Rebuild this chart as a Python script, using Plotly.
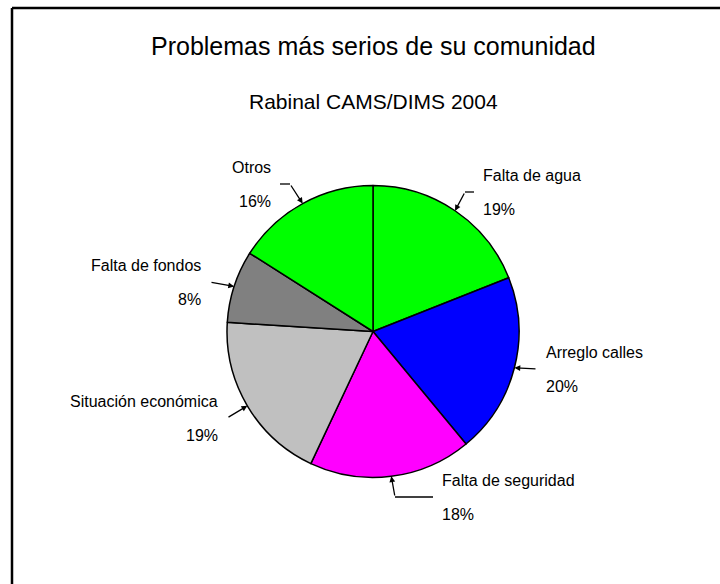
import math
import plotly.graph_objects as go

# Survey results: most serious problems in the community (percent of answers)
categories = ["Falta de agua", "Arreglo calles", "Falta de seguridad",
              "Situación económica", "Falta de fondos", "Otros"]
values = [19, 20, 18, 19, 8, 16]
slice_colors = ["#00ff00", "#0000ff", "#ff00ff", "#c0c0c0", "#808080", "#00ff00"]

title_text = "Problemas más serios de su comunidad"
subtitle_text = "Rabinal CAMS/DIMS 2004"

# Layout (pixel space of the 720x584 page)
W, H = 720, 584
CX, CY, R = 373, 331.5, 146
# label anchor points (where the leader line ends) and the horizontal run of each leader
label_anchor = [(474, 192), (537, 369), (433, 497), (227, 418), (210, 282), (280, 184)]
leader_hrun = [9, 0, 38, 0, 0, 10]
TEXT_GAP = 7
LINE_OFF = 17
FONT = "Liberation Sans, Arial, sans-serif"

fig = go.Figure()

fig.add_trace(go.Pie(
    labels=categories,
    values=values,
    sort=False,
    direction="clockwise",
    rotation=0,
    textinfo="none",
    hoverinfo="label+percent",
    showlegend=False,
    marker=dict(colors=slice_colors, line=dict(color="black", width=1.5)),
    domain=dict(x=[(CX - R) / W, (CX + R) / W],
                y=[1 - (CY + R) / H, 1 - (CY - R) / H]),
))

total = sum(values)
cum = 0
annotations = []
shapes = []
for name, v, (ax_, ay_), hrun in zip(categories, values, label_anchor, leader_hrun):
    mid = (cum + v / 2) / total * 2 * math.pi
    cum += v
    tip_x = CX + R * math.sin(mid)
    tip_y = CY - R * math.cos(mid)
    side = 1 if ax_ > CX else -1
    bend_x = ax_ - side * hrun
    # horizontal part of the leader
    if hrun:
        shapes.append(dict(type="line", xref="x", yref="y",
                           x0=bend_x, y0=ay_, x1=ax_, y1=ay_,
                           line=dict(color="black", width=1.3)))
    # arrow from the bend to the slice edge
    annotations.append(dict(x=tip_x, y=tip_y, xref="x", yref="y",
                            ax=bend_x, ay=ay_, axref="x", ayref="y",
                            text="", showarrow=True, arrowhead=2,
                            arrowsize=0.9, arrowwidth=1.3, arrowcolor="black"))
    tx = ax_ + side * TEXT_GAP
    anchor = "left" if side > 0 else "right"
    annotations.append(dict(x=tx, y=ay_ - LINE_OFF, xref="x", yref="y",
                            text=name, showarrow=False, xanchor=anchor,
                            yanchor="middle", font=dict(size=16, family=FONT, color="black")))
    annotations.append(dict(x=tx, y=ay_ + LINE_OFF, xref="x", yref="y",
                            text=f"{round(v / total * 100)}%", showarrow=False,
                            xanchor=anchor, yanchor="middle",
                            font=dict(size=16, family=FONT, color="black")))

annotations.append(dict(x=CX, y=46, xref="x", yref="y", text=title_text,
                        showarrow=False, xanchor="center", yanchor="middle",
                        font=dict(size=25, family=FONT, color="black")))
annotations.append(dict(x=CX, y=101, xref="x", yref="y", text=subtitle_text,
                        showarrow=False, xanchor="center", yanchor="middle",
                        font=dict(size=21, family=FONT, color="black")))

# page frame (runs off the right and bottom edges)
shapes.append(dict(type="line", xref="x", yref="y", x0=12, y0=8, x1=W + 10, y1=8,
                   line=dict(color="black", width=2.5)))
shapes.append(dict(type="line", xref="x", yref="y", x0=12, y0=8, x1=12, y1=H + 10,
                   line=dict(color="black", width=2.5)))

fig.update_layout(
    width=W, height=H,
    margin=dict(l=0, r=0, t=0, b=0),
    paper_bgcolor="white", plot_bgcolor="rgba(0,0,0,0)",
    xaxis=dict(range=[0, W], visible=False, fixedrange=True),
    yaxis=dict(range=[H, 0], visible=False, fixedrange=True),
    annotations=annotations,
    shapes=shapes,
)

fig.write_html("out.html")
